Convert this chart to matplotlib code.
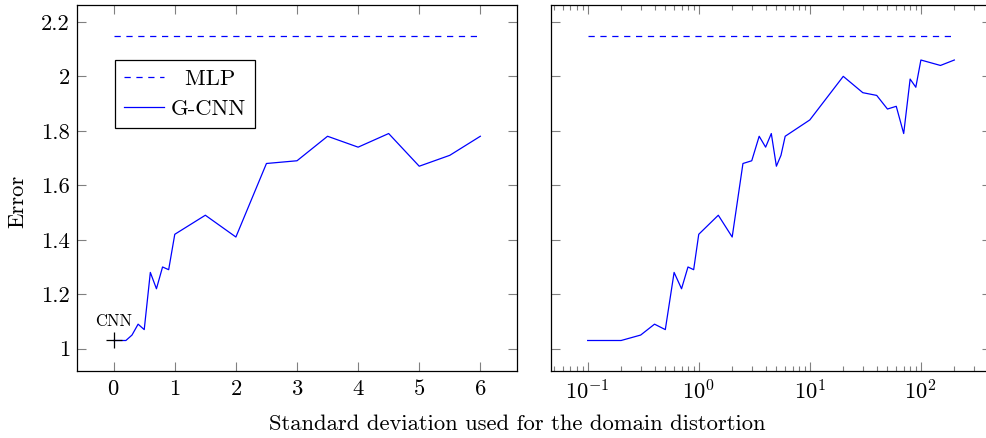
import numpy as np
import matplotlib
matplotlib.use('Agg')
import matplotlib.pyplot as plt
from matplotlib.ticker import FuncFormatter, LogLocator, NullFormatter

# Werte
sigma_klein = [0.1, 0.2, 0.3, 0.4, 0.5, 0.6, 0.7, 0.8, 0.9, 1.0,
               1.5, 2.0, 2.5, 3.0, 3.5, 4.0, 4.5, 5.0, 5.5, 6.0]
fehler_klein = [1.03, 1.03, 1.05, 1.09, 1.07, 1.28, 1.22, 1.30, 1.29, 1.42,
                1.49, 1.41, 1.68, 1.69, 1.78, 1.74, 1.79, 1.67, 1.71, 1.78]
sigma_gross = [10, 20, 30, 40, 50, 60, 70, 80, 90, 100, 150, 200]
fehler_gross = [1.84, 2.00, 1.94, 1.93, 1.88, 1.89, 1.79, 1.99, 1.96, 2.06, 2.04, 2.06]
sigma_null = 0.0
fehler_null = 1.03
mlp_fehler = 2.15
cnn_fehler = 1.03
y_ticks = [1.0, 1.2, 1.4, 1.6, 1.8, 2.0, 2.2]
x_ticks_links = [0, 1, 2, 3, 4, 5, 6]

plt.rcParams['font.family'] = ['cmr10', 'DejaVu Serif']
plt.rcParams['mathtext.fontset'] = 'cm'
plt.rcParams['axes.formatter.use_mathtext'] = True
plt.rcParams['font.size'] = 16.3

blau = '#0000ff'
tick_farbe = '0.5'

fig = plt.figure(figsize=(9.87, 4.38), dpi=100)
ax1 = fig.add_axes([77 / 987, 1 - 371 / 438, 440 / 987, 366 / 438])
ax2 = fig.add_axes([551 / 987, 1 - 371 / 438, 440 / 987, 366 / 438])

# linke Seite: lineare Achse
x_links = [sigma_null] + sigma_klein
y_links = [fehler_null] + fehler_klein
ax1.plot([sigma_null, sigma_klein[-1]], [mlp_fehler, mlp_fehler], color=blau,
         lw=0.9, dashes=(5, 4.5), label='  MLP')
ax1.plot(x_links, y_links, color=blau, lw=0.9, label='G-CNN')
ax1.plot([sigma_null], [cnn_fehler], marker='+', color='black', ms=11, mew=0.9)
ax1.annotate('CNN', (sigma_null, cnn_fehler), xytext=(0, 10.5),
             textcoords='offset points', ha='center', va='baseline', fontsize=12)

# 10% Rand wie bei pgfplots
lo, hi = min(y_links), mlp_fehler
ax1.set_xlim(-0.6, 6.6)
ax1.set_ylim(lo - 0.1 * (hi - lo), hi + 0.1 * (hi - lo))
ax1.set_xticks(x_ticks_links)
ax1.set_yticks(y_ticks)
ax1.yaxis.set_major_formatter(FuncFormatter(lambda v, p: '%g' % round(v, 2)))

leg = ax1.legend(loc='upper left', bbox_to_anchor=(0.0864, 0.8497), borderaxespad=0,
                 fancybox=False, edgecolor='black', framealpha=1, fontsize=16.3,
                 handlelength=1.75, handletextpad=0.3, labelspacing=0.45,
                 borderpad=0.4)
leg.get_frame().set_linewidth(0.9)

# rechte Seite: logarithmische Achse
x_rechts = sigma_klein + sigma_gross
y_rechts = fehler_klein + fehler_gross
ax2.plot([x_rechts[0], x_rechts[-1]], [mlp_fehler, mlp_fehler], color=blau,
         lw=0.9, dashes=(5, 4.5))
ax2.plot(x_rechts, y_rechts, color=blau, lw=0.9)
ax2.set_xscale('log')
llo, lhi = np.log10(x_rechts[0]), np.log10(x_rechts[-1])
ax2.set_xlim(10 ** (llo - 0.1 * (lhi - llo)), 10 ** (lhi + 0.1 * (lhi - llo)))
ax2.set_ylim(ax1.get_ylim())
ax2.set_yticks(y_ticks)
ax2.set_yticklabels([])
ax2.xaxis.set_major_locator(LogLocator(base=10))
ax2.xaxis.set_minor_locator(LogLocator(base=10, subs=np.arange(2, 10)))
ax2.xaxis.set_minor_formatter(NullFormatter())

for ax in (ax1, ax2):
    for s in ax.spines.values():
        s.set_linewidth(0.9)
        s.set_color('black')
    ax.tick_params(which='both', direction='in', top=True, right=True,
                   color=tick_farbe, width=0.8)
    ax.tick_params(which='major', length=6.8)
    ax.tick_params(which='minor', length=3.6)
    ax.tick_params(axis='x', pad=6)
    ax.tick_params(axis='y', pad=5)

fig.text(18 / 987, 1 - 201 / 438, 'Error', rotation=90, ha='center', va='center')
fig.text(517.5 / 987, 1 - 424 / 438, 'Standard deviation used for the domain distortion',
         ha='center', va='center')

fig.savefig('out.png', dpi=100)
